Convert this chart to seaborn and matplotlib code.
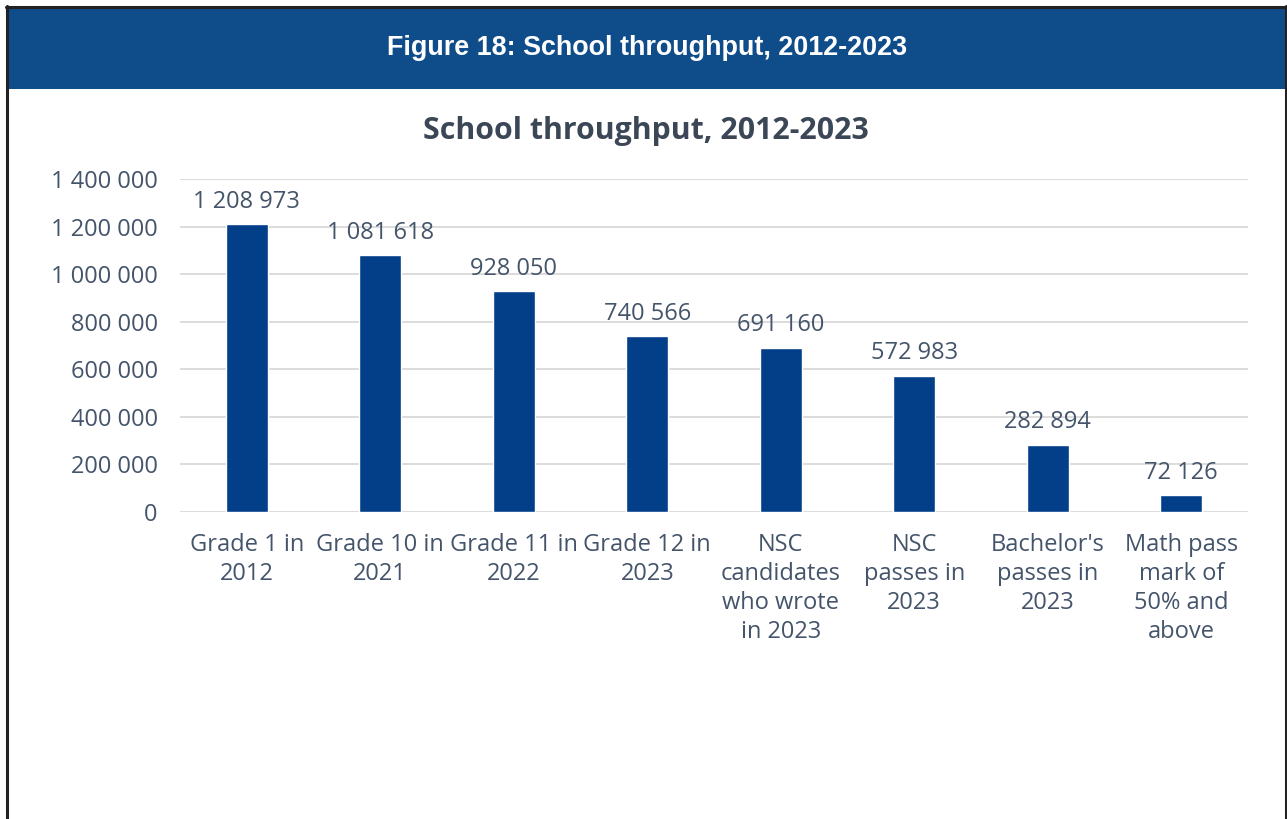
import matplotlib
matplotlib.use("Agg")
import matplotlib.pyplot as plt
from matplotlib.patches import Rectangle
from matplotlib.lines import Line2D
from matplotlib.ticker import FuncFormatter
import seaborn as sns
import pandas as pd

categories = [
    "Grade 1 in\n2012",
    "Grade 10 in\n2021",
    "Grade 11 in\n2022",
    "Grade 12 in\n2023",
    "NSC\ncandidates\nwho wrote\nin 2023",
    "NSC\npasses in\n2023",
    "Bachelor's\npasses in\n2023",
    "Math pass\nmark of\n50% and\nabove",
]
learners = [1208973, 1081618, 928050, 740566, 691160, 572983, 282894, 72126]

header_text = "Figure 18: School throughput, 2012-2023"
chart_title = "School throughput, 2012-2023"

W, H = 1287, 819
bar_color = "#033f88"
text_color = "#44546a"

sns.set_theme(style="white")
plt.rcParams["font.family"] = ["Open Sans", "DejaVu Sans"]

fig = plt.figure(figsize=(W / 100, H / 100), dpi=100)
fig.patch.set_facecolor("white")

# header band + frame
fig.add_artist(Rectangle((7 / W, 1 - 89 / H), (1285 - 7) / W, (89 - 7) / H,
                         transform=fig.transFigure, facecolor="#0f4c8a", edgecolor="none"))
for xs, ys in [([6.5 / W, 6.5 / W], [0, 1 - 6 / H]),
               ([1285.5 / W, 1285.5 / W], [0, 1 - 6 / H]),
               ([6 / W, 1286 / W], [1 - 6.5 / H, 1 - 6.5 / H])]:
    fig.add_artist(Line2D(xs, ys, transform=fig.transFigure, color="#222222", linewidth=2.2))
fig.text(647 / W, 1 - 48 / H, header_text, ha="center", va="center", color="white",
         fontsize=19.4, fontweight="bold", family=["Liberation Sans", "DejaVu Sans"])

ax = fig.add_axes([180 / W, 1 - 512 / H, (1248 - 180) / W, (512 - 179) / H])
df = pd.DataFrame({"category": categories, "value": learners})
sns.barplot(data=df, x="category", y="value", color=bar_color, width=0.315,
            saturation=1, ax=ax)

ax.set_ylim(0, 1400000)
ax.set_yticks(range(0, 1400001, 200000))
ax.yaxis.set_major_formatter(FuncFormatter(lambda v, p: f"{int(v):,}".replace(",", " ")))
ax.grid(axis="y", color="#d9d9d9", linewidth=1.3)
ax.set_axisbelow(True)
for s in ax.spines.values():
    s.set_visible(False)
ax.tick_params(axis="both", length=0, labelsize=17, labelcolor=text_color)
ax.tick_params(axis="y", pad=16)
ax.tick_params(axis="x", pad=15)
for lab in ax.get_xticklabels():
    lab.set_linespacing(1.28)
ax.set_xlabel("")
ax.set_ylabel("")

for i, v in enumerate(learners):
    ax.annotate(f"{v:,}".replace(",", " "), (i, v), xytext=(0, 16), textcoords="offset points",
                ha="center", va="center", fontsize=17, color=text_color)

fig.text(646 / W, 1 - 131 / H, chart_title, ha="center", va="center", color="#3b4656",
         fontsize=21.8, fontweight="bold")

fig.savefig("out.png", dpi=100)
